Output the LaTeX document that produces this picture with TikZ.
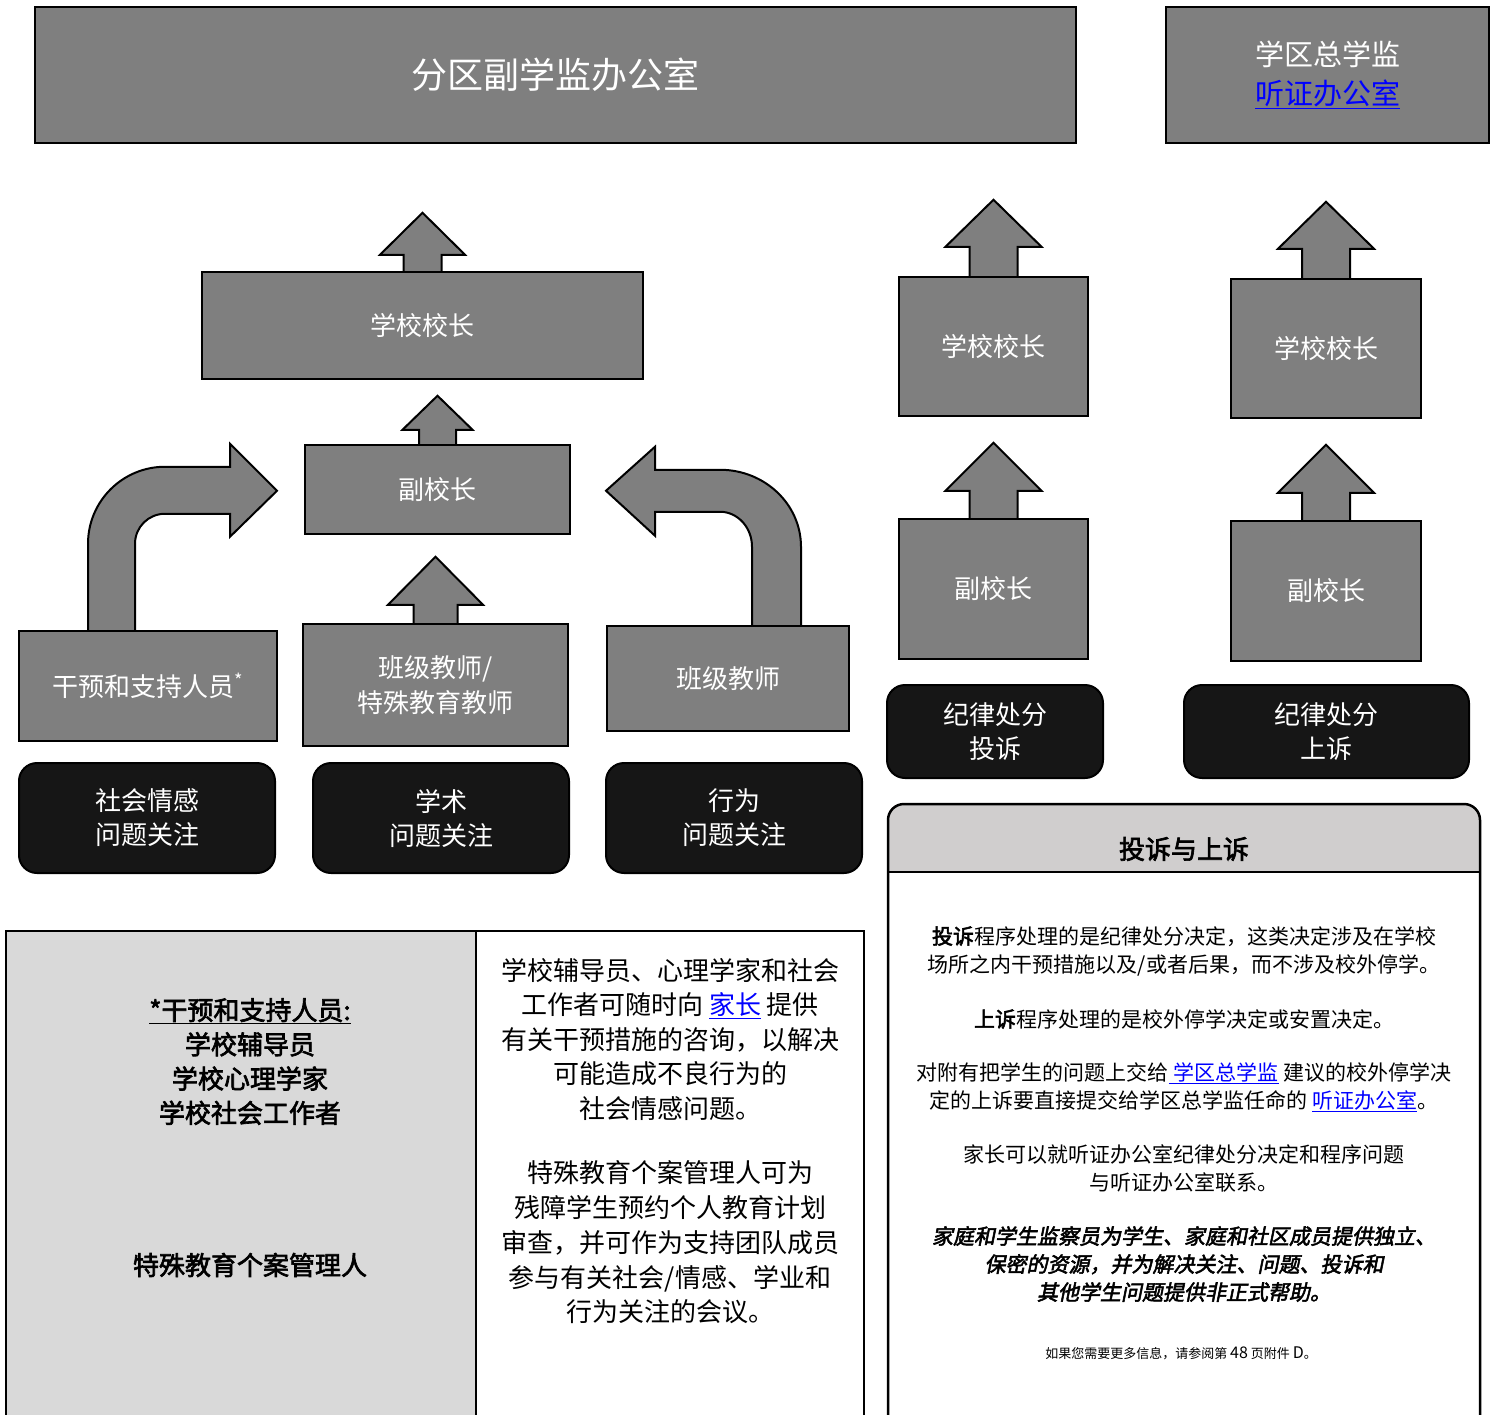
\documentclass[tikz,border=0pt]{standalone}
\usepackage{fontspec}
\setmainfont{Noto Sans CJK SC}[AutoFakeBold=2.5,AutoFakeSlant=0.2]
\usetikzlibrary{backgrounds}
\definecolor{boxgray}{HTML}{7F7F7F}
\definecolor{boxdark}{HTML}{161616}
\definecolor{panelgray}{HTML}{D9D9D9}
\definecolor{headgray}{HTML}{D0CECE}
\definecolor{linkblue}{HTML}{0000FF}
\newcommand{\linktext}[1]{\textcolor{linkblue}{\underline{#1}}}
\begin{document}
\begin{tikzpicture}
[x=1pt,y=-1pt,
  boxdecorate/.style={shape=rectangle,draw,line width=2.5pt,fill=boxgray,text=white,
    align=center,font=\fontsize{26}{35}\selectfont},%
  darkdecorate/.style={shape=rectangle,draw,line width=2pt,fill=boxdark,text=white,
    rounded corners=18pt,align=center,font=\fontsize{26}{34}\selectfont},%
  arrowdecorate/.style={draw,line width=2pt,fill=boxgray,line join=miter},%
  paneldecorate/.style={draw,line width=2.5pt},%
  textdecorate/.style={align=center,inner sep=0pt}]
\useasboundingbox (0,0) rectangle (1494,1414);
%% top offices
\node (office) at (555.5,75) [boxdecorate,minimum width=1041pt,minimum height=136pt,
  font=\fontsize{36}{40}\selectfont] {分区副学监办公室};
\node (hearing) at (1327.5,75) [boxdecorate,minimum width=323pt,minimum height=136pt,
  font=\fontsize{29}{39}\selectfont] {学区总学监\\\linktext{听证办公室}};
%% gray boxes
\foreach \nodename/\x/\y/\w/\h/\txt in {
  xzl/422.5/325.5/441/107/{学校校长},
  fxl/437.5/489.5/265/89/{副校长},
  bjts/435.5/685/265/122/{班级教师/\\特殊教育教师},
  gy/148/686/258/110/{干预和支持人员\textsuperscript{*}},
  bj/728/678.5/242/105/{班级教师},
  xza/993.5/346.5/189/139/{学校校长},
  fxa/993.5/589/189/140/{副校长},
  xzb/1326/348.5/190/139/{学校校长},
  fxb/1326/591/190/140/{副校长}} {
  \node (\nodename) at (\x,\y) [boxdecorate,minimum width=\w pt,minimum height=\h pt] {\txt};
}
%% dark boxes
\foreach \nodename/\x/\y/\w/\h/\txt in {
  sq/147/818/256/110/{社会情感\\问题关注},
  xs/441/818/256/110/{学术\\问题关注},
  xw/734/818/256/110/{行为\\问题关注},
  ts/995/731.5/216/93/{纪律处分\\投诉},
  ss/1326.5/731.5/285/93/{纪律处分\\上诉}} {
  \node (\nodename) at (\x,\y) [darkdecorate,minimum width=\w pt,minimum height=\h pt] {\txt};
}
%% block arrows, behind the boxes
\begin{scope}[on background layer]
\foreach \nodename/\hw/\sw/\sl/\hl in {xzl/42.5/19/16/42, fxl/35/18.5/14/34,
  bjts/47.5/22/18/48, xza/48/24/29/47, fxa/48/24/27/48, xzb/48/24/29/47, fxb/48/24/27/48} {
  \draw[arrowdecorate,shift={(\nodename.north)}] (-\sw,6) -- (-\sw,-\sl) -- (-\hw,-\sl)
    -- (0,-\sl-\hl) -- (\hw,-\sl) -- (\sw,-\sl) -- (\sw,6) -- cycle;
}
%% curved arrows
\draw[arrowdecorate,shift={(gy.north)}] (-60,6) -- (-60,-86)
  arc[start angle=180,end angle=270,radius=77] -- (82,-163) -- (82,-186) -- (129,-139)
  -- (82,-93) -- (82,-116) -- (17,-116) arc[start angle=270,end angle=180,radius=30]
  -- (-13,6) -- cycle;
\draw[arrowdecorate,shift={(bj.north)}] (73,6) -- (73,-78)
  arc[start angle=0,end angle=-90,x radius=81,y radius=77] -- (-73,-155) -- (-73,-178)
  -- (-122,-134) -- (-73,-89) -- (-73,-113) -- (-8,-113)
  arc[start angle=-90,end angle=0,x radius=32,y radius=35] -- (24,6) -- cycle;
\end{scope}
%% bottom left panels
\draw[paneldecorate,fill=panelgray] (6,931) rectangle (476,1425);
\draw[paneldecorate,fill=white] (476,931) rectangle (864,1425);
\node (staff) at (250,1061.5) [textdecorate,font=\fontsize{26}{34.3}\selectfont\bfseries]
  {\underline{*干预和支持人员:}\\学校辅导员\\学校心理学家\\学校社会工作者};
\node (sped) at (250,1265) [textdecorate,font=\fontsize{26}{34.3}\selectfont\bfseries]
  {特殊教育个案管理人};
\node (staffinfo) at (670,1039) [textdecorate,font=\fontsize{26}{34.5}\selectfont]
  {学校辅导员、心理学家和社会\\工作者可随时向 \linktext{家长} 提供\\有关干预措施的咨询，以解决\\可能造成不良行为的\\社会情感问题。};
\node (spedinfo) at (670,1242.5) [textdecorate,font=\fontsize{26}{34.7}\selectfont]
  {特殊教育个案管理人可为\\残障学生预约个人教育计划\\审查，并可作为支持团队成员\\参与有关社会/情感、学业和\\行为关注的会议。};
%% complaints and appeals panel
\fill[white] (888,872) rectangle (1480,1425);
\fill[headgray] (888,872) [rounded corners=16pt] -- (888,804) -- (1480,804)
  [sharp corners] -- (1480,872) -- cycle;
\draw[paneldecorate] (888,1425) [rounded corners=16pt] -- (888,804) -- (1480,804)
  [sharp corners] -- (1480,1425);
\draw[paneldecorate] (888,872) -- (1480,872);
\node (head) at (1184,849) [textdecorate,font=\fontsize{26}{30}\selectfont\bfseries] {投诉与上诉};
\node (pa) at (1184,951) [textdecorate,font=\fontsize{21}{28}\selectfont]
  {\textbf{投诉}程序处理的是纪律处分决定，这类决定涉及在学校\\场所之内干预措施以及/或者后果，而不涉及校外停学。};
\node (pb) at (1184,1019) [textdecorate,font=\fontsize{21}{28}\selectfont]
  {\textbf{上诉}程序处理的是校外停学决定或安置决定。};
\node (pc) at (1184,1087) [textdecorate,font=\fontsize{21}{28}\selectfont]
  {对附有把学生的问题上交给\linktext{ 学区总学监} 建议的校外停学决\\定的上诉要直接提交给学区总学监任命的 \linktext{听证办公室}。};
\node (pd) at (1184,1168) [textdecorate,font=\fontsize{21}{28}\selectfont]
  {家长可以就听证办公室纪律处分决定和程序问题\\与听证办公室联系。};
\node (pe) at (1184,1264) [textdecorate,font=\fontsize{21}{28}\selectfont\bfseries\itshape]
  {家庭和学生监察员为学生、家庭和社区成员提供独立、\\保密的资源，并为解决关注、问题、投诉和\\其他学生问题提供非正式帮助。};
\node (pf) at (1181,1353) [textdecorate,font=\fontsize{13}{16}\selectfont]
  {如果您需要更多信息，请参阅第 {\fontsize{16}{16}\selectfont 48} 页附件 {\fontsize{16}{16}\selectfont D}。};
\end{tikzpicture}
\end{document}
